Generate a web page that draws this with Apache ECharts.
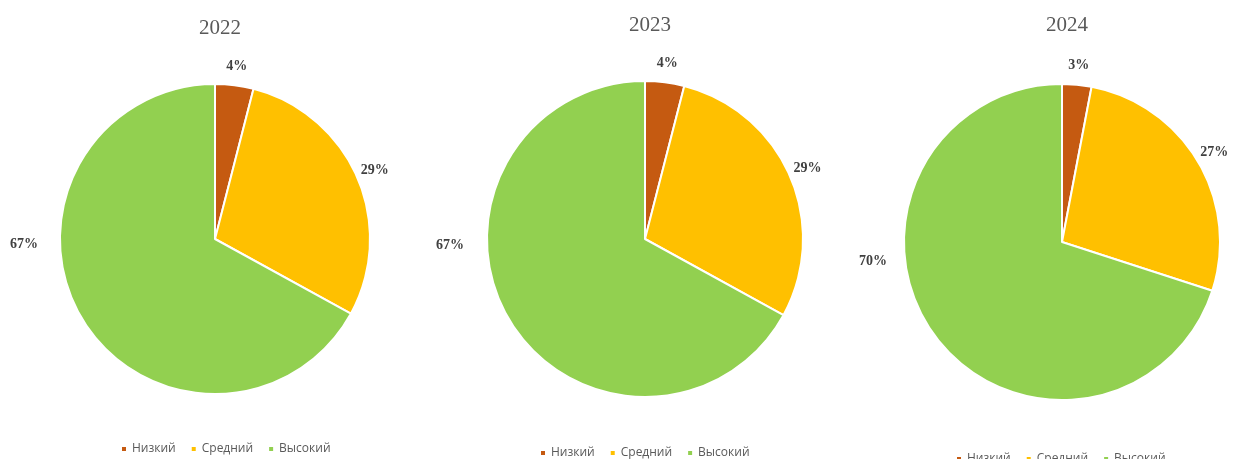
<!DOCTYPE html>
<html><head><meta charset="utf-8">
<script src="https://cdn.jsdelivr.net/npm/echarts@6/dist/echarts.min.js"></script>
<style>html,body{margin:0;padding:0;background:#fff}#c{width:1234px;height:459px}</style>
</head><body><div id="c"></div>
<script>
const categories = ['Низкий', 'Средний', 'Высокий'];
const years = ['2022', '2023', '2024'];
const values2022 = [4, 29, 67];
const values2023 = [4, 29, 67];
const values2024 = [3, 27, 70];
const allValues = [values2022, values2023, values2024];
const colors = ['#C55A11', '#FFC000', '#92D050'];

// layout (positions/sizes)
const centers = [[215, 239], [645, 239], [1062, 242]];
const radii = [155, 158, 158];
const titleTops = [13, 10, 10];
const legendLefts = [120, 539, 955];
const legendTops = [443, 447, 453];
// label placement: small slices at mid-angle, radius + gap; largest slice at a fixed angle (Excel-like)
const smallLabelGap = 19;
const bigLabelAngle = [268.5, 268.2, 264];
const bigLabelDist = [191, 195, 190];

const chart = echarts.init(document.getElementById('c'));

function labelPos(si, di) {
  const vals = allValues[si];
  const total = vals.reduce((a, b) => a + b, 0);
  const [cx, cy] = centers[si];
  let ang, dist;
  if (di === vals.length - 1) {
    ang = bigLabelAngle[si]; dist = bigLabelDist[si];
  } else {
    let before = 0;
    for (let k = 0; k < di; k++) before += vals[k];
    ang = (before + vals[di] / 2) / total * 360;
    dist = radii[si] + smallLabelGap;
  }
  const rad = ang * Math.PI / 180;
  return {x: cx + dist * Math.sin(rad), y: cy - dist * Math.cos(rad)};
}

chart.setOption({
  animation: false,
  color: colors,
  title: years.map((y, i) => ({
    text: y, left: centers[i][0], top: titleTops[i], textAlign: 'center',
    textStyle: {fontFamily: 'Liberation Serif', fontWeight: 'normal', fontSize: 21, color: '#595959'}
  })),
  legend: years.map((y, i) => ({
    data: categories, left: legendLefts[i], top: legendTops[i], padding: 0,
    icon: 'rect', itemWidth: 6, itemHeight: 6, itemGap: 14,
    textStyle: {fontFamily: 'Open Sans', fontSize: 12, color: '#595959'}
  })),
  series: years.map((y, i) => ({
    type: 'pie', center: centers[i], radius: radii[i], startAngle: 90, clockwise: true,
    itemStyle: {borderColor: '#fff', borderWidth: 2},
    label: {show: true, position: 'outside', formatter: '{c}%', fontFamily: 'Liberation Serif',
      fontWeight: 'bold', fontSize: 14, color: '#404040', overflow: 'none', width: 40},
    labelLine: {show: false},
    labelLayout: function (p) {
      const pos = labelPos(i, p.dataIndex);
      return {x: pos.x, y: pos.y, align: 'center', verticalAlign: 'middle', width: 40};
    },
    data: categories.map((c, j) => ({name: c, value: allValues[i][j]}))
  }))
});
</script></body></html>
